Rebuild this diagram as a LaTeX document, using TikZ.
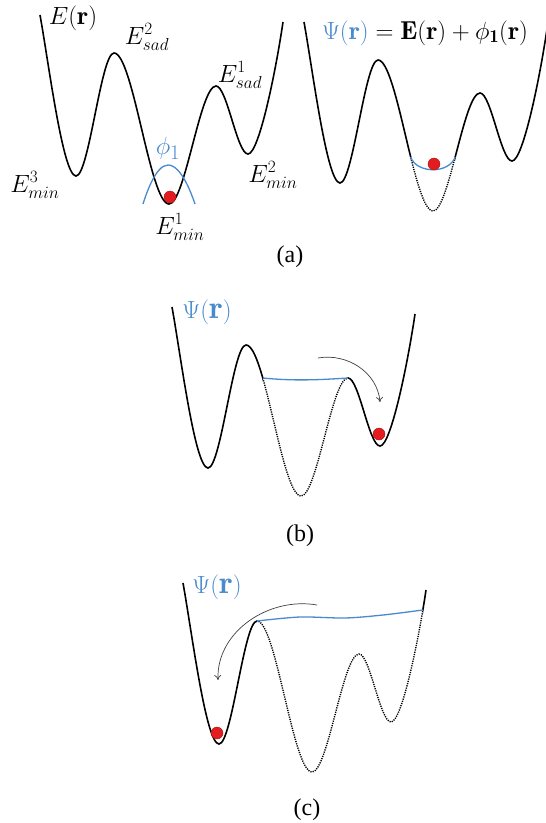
\documentclass[tikz,border=0pt]{standalone}
\usepackage{fontspec}
\newfontfamily\tagfont{Liberation Serif}
\usepackage{tikz}
\usetikzlibrary{arrows.meta,intersections}
\definecolor{psiblue}{RGB}{72,138,206}
\definecolor{ballred}{RGB}{228,28,32}
% energy landscape, drawn in the frame of panel (a), left
\newcommand{\landscape}{(40,15) .. controls (49,65) and (63,176) .. (76,176)
  .. controls (89,176) and (101,53) .. (114,53)
  .. controls (133,53) and (150,204) .. (169,204)
  .. controls (185,204) and (200,86) .. (216,86)
  .. controls (227,86) and (237,154) .. (248,154)
  .. controls (259,154) and (276,70) .. (283,22)}
\tikzset{
  land/.style={line width=1.6pt, black},
  landdot/.style={line width=1.4pt, black, dash pattern=on 1.2pt off 1.1pt},
  psi/.style={line width=1.3pt, psiblue},
  ball/.style={circle, fill=ballred, draw=ballred!70!black, line width=0.4pt, minimum size=12pt, inner sep=0pt},
  lbl/.style={font=\fontsize{27}{30}\selectfont, inner sep=0pt},
  tag/.style={font=\tagfont\fontsize{24}{26}\selectfont, inner sep=0pt},
  fl/.style={-{To[length=5pt,width=7pt]}, line width=0.7pt, black!75},
}

\begin{document}
\begin{tikzpicture}[x=1pt, y=-1pt]
\useasboundingbox (0,0) rectangle (546,823);

% (a) left
\draw[land] \landscape;
\draw[psi] (143,204) parabola bend (168,165) (195,204);
\node[ball] (ballA) at (170,197) {};
\node[lbl, font=\fontsize{26}{28}\selectfont] (Er) at (73,18) {$E(\mathbf{r})$};
\node[lbl] (sad2) at (147,37) {$E^2_{sad}$};
\node[lbl] (sad1) at (240,75) {$E^1_{sad}$};
\node[lbl, font=\fontsize{30}{32}\selectfont, text=psiblue] (phi) at (168,148) {$\phi_1$};
\node[lbl] (min3) at (35,185) {$E^3_{min}$};
\node[lbl] (min1) at (180,227) {$E^1_{min}$};
\node[lbl] (min2) at (273,175) {$E^2_{min}$};

% (a) right
\begin{scope}[shift={(264,7)}]
  \path[name path=landR] \landscape;
  \path[name path=lvlR] (125,150) -- (205,150);
  \path[name intersections={of=landR and lvlR, by={r1,r2}}];
  \begin{scope}[even odd rule]
    \clip (-10,-30) rectangle (300,260) (r2) rectangle (r1 |- 0,260);
    \draw[land] \landscape;
  \end{scope}
  \begin{scope}
    \clip (r1) rectangle (r2 |- 0,260);
    \draw[landdot] \landscape;
  \end{scope}
  \draw[psi] (r1) .. controls +(6,17) and +(-6,17) .. (r2);
  \node[ball] (ballR) at (170,157) {};
\end{scope}
\node[lbl, font=\fontsize{26}{28}\selectfont] (psiA) at (425,33) {${\color{psiblue}\Psi(\mathbf{r})} = \mathbf{E}(\mathbf{r}) + \phi_{\mathbf{1}}(\mathbf{r})$};
\node[tag] (tagA) at (290,257) {(a)};

% (b)
\begin{scope}[shift={(132,292)}]
  \path[name path=landB] \landscape;
  \path[name path=lvlB] (116,86) -- (160,86);
  \path[name intersections={of=landB and lvlB, by={b1}}];
  \coordinate (b2) at (216,86);
  \begin{scope}[even odd rule]
    \clip (-10,-30) rectangle (300,260) (b2) rectangle (b1 |- 0,260);
    \draw[land] \landscape;
  \end{scope}
  \begin{scope}
    \clip (b1) rectangle (b2 |- 0,260);
    \draw[landdot] \landscape;
  \end{scope}
  \draw[psi] (b1) .. controls +(30,3) and +(-30,2) .. (b2);
  \node[ball] (ballB) at (247,142) {};
\end{scope}
\node[lbl, font=\fontsize{32}{34}\selectfont, text=psiblue] (psiB) at (207,312) {$\Psi(\mathbf{r})$};
\coordinate (hopB1) at (318,358);
\coordinate (hopB2) at (380,402);
\draw[fl] (hopB1) to[out=10, in=95] (hopB2);
\node[tag] (tagB) at (300,536) {(b)};

% (c)
\begin{scope}[shift={(143,568)}]
  \path[name path=landC] \landscape;
  \path[name path=lvlC] (255,42) -- (295,42);
  \path[name intersections={of=landC and lvlC, by={c2}}];
  \coordinate (c1) at (114,53);
  \begin{scope}[even odd rule]
    \clip (-10,-30) rectangle (300,260) (c2) rectangle (c1 |- 0,260);
    \draw[land] \landscape;
  \end{scope}
  \begin{scope}
    \clip (c1 |- c2) rectangle (c2 |- 0,260);
    \draw[landdot] \landscape;
  \end{scope}
  \draw[psi] plot[smooth] coordinates {(c1) (157,49) (202,50) (240,47) (c2)};
  \node[ball] (ballC) at (74,165) {};
\end{scope}
\node[lbl, font=\fontsize{32}{34}\selectfont, text=psiblue] (psiC) at (217,587) {$\Psi(\mathbf{r})$};
\coordinate (hopC1) at (317,605);
\coordinate (hopC2) at (218,680);
\draw[fl] (hopC1) to[out=170, in=92] (hopC2);
\node[tag] (tagC) at (307,810) {(c)};
\end{tikzpicture}
\end{document}
